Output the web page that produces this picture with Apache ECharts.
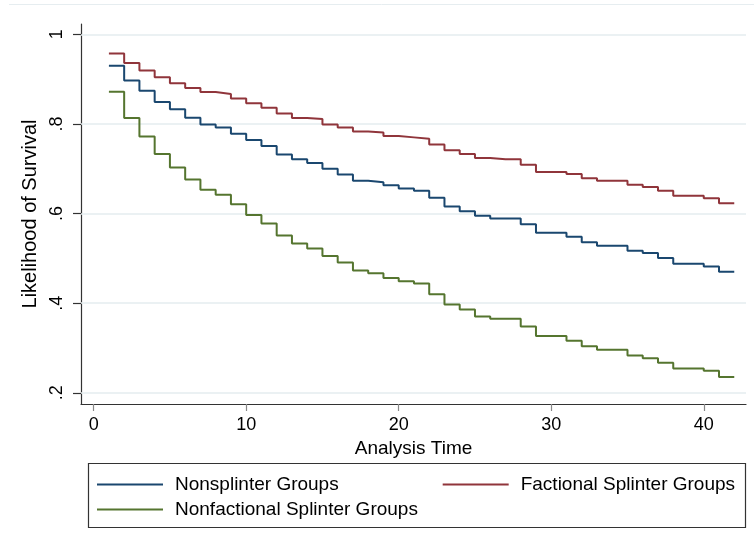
<!DOCTYPE html>
<html>
<head>
<meta charset="utf-8">
<script src="https://cdn.jsdelivr.net/npm/echarts@6/dist/echarts.min.js"></script>
<style>
html,body{margin:0;padding:0;background:#fff;}
#chart{width:754px;height:552px;}
</style>
</head>
<body>
<div id="chart"></div>
<script>
var times = [1,2,3,4,5,6,7,8,9,10,11,12,13,14,15,16,17,18,19,20,21,22,23,24,25,26,27,28,29,30,31,32,33,34,35,36,37,38,39,40,41,42];
var nonsplinter = [0.930,0.897,0.874,0.849,0.833,0.814,0.799,0.792,0.778,0.764,0.751,0.732,0.721,0.713,0.700,0.687,0.673,0.670,0.663,0.656,0.651,0.635,0.616,0.605,0.595,0.589,0.589,0.576,0.557,0.557,0.548,0.536,0.528,0.528,0.517,0.512,0.501,0.488,0.488,0.482,0.470,0.470];
var factional = [0.957,0.936,0.919,0.904,0.891,0.880,0.871,0.867,0.857,0.846,0.836,0.823,0.813,0.811,0.799,0.792,0.783,0.781,0.773,0.770,0.767,0.754,0.741,0.733,0.724,0.721,0.721,0.709,0.693,0.693,0.688,0.679,0.673,0.673,0.664,0.659,0.651,0.640,0.640,0.634,0.623,0.623];
var nonfactional = [0.872,0.813,0.772,0.733,0.703,0.676,0.653,0.642,0.621,0.597,0.578,0.551,0.533,0.522,0.505,0.491,0.473,0.467,0.456,0.449,0.444,0.420,0.397,0.386,0.370,0.365,0.365,0.348,0.327,0.327,0.316,0.304,0.296,0.296,0.283,0.277,0.267,0.254,0.254,0.249,0.235,0.235];
var xTicks = [0,10,20,30,40];
var yTicks = [0.2,0.4,0.6,0.8,1];
var yTickLabels = ['.2','.4','.6','.8','1'];
var seriesNames = ['Nonsplinter Groups','Factional Splinter Groups','Nonfactional Splinter Groups'];
var colors = ['#1a476f','#90353b','#55752f'];

function pairs(vals){ return times.map(function(t,i){ return [t, vals[i]]; }); }

var font = 'Liberation Sans, Arial, sans-serif';
var chart = echarts.init(document.getElementById('chart'), null, {renderer:'canvas'});
var allVals = [nonsplinter, factional, nonfactional];
var series = allVals.map(function(v,i){
  return {
    name: seriesNames[i], type:'line', step:'end', data: pairs(v),
    showSymbol:false, symbol:'none', silent:true,
    lineStyle:{color:colors[i], width:2}, itemStyle:{color:colors[i]},
    z: 3,
    markLine: i===0 ? {
      silent:true, symbol:['none','none'], label:{show:false},
      lineStyle:{color:'#e4ecef', width:1.5, type:'solid'},
      data: yTicks.map(function(y){ return {yAxis:y}; }),
      z: 1
    } : undefined
  };
});

var legendText = {fontFamily:font, fontSize:19, color:'#000', padding:[0,0,0,7]};

chart.setOption({
  animation:false,
  backgroundColor:'#fff',
  grid:{left:81, right:8, top:24, bottom:148, containLabel:false},
  xAxis:{
    type:'value', min:-0.83, max:42.77,
    name:'Analysis Time', nameLocation:'middle', nameGap:31,
    nameTextStyle:{fontFamily:font, fontSize:19, color:'#000'},
    axisLine:{show:true, onZero:false, lineStyle:{color:'#333', width:1.2}},
    axisTick:{show:true, length:7, customValues:xTicks, lineStyle:{color:'#888', width:1.2}},
    axisLabel:{customValues:xTicks, fontFamily:font, fontSize:18, color:'#000', margin:12,
      formatter:function(v){return String(v);}},
    splitLine:{show:false}
  },
  yAxis:{
    type:'value', min:0.175, max:1.023,
    name:'Likelihood of Survival', nameLocation:'middle', nameGap:38, nameRotate:90,
    nameTextStyle:{fontFamily:font, fontSize:20, color:'#000'},
    axisLine:{show:true, onZero:false, lineStyle:{color:'#333', width:1.2}},
    axisTick:{show:true, length:8, customValues:yTicks, lineStyle:{color:'#333', width:1.2}},
    axisLabel:{customValues:yTicks, rotate:90, fontFamily:font, fontSize:18, color:'#000', margin:15,
      formatter:function(v){ var i=yTicks.findIndex(function(t){return Math.abs(t-v)<1e-6;}); return i>=0?yTickLabels[i]:''; }},
    splitLine:{show:false}
  },
  legend:[
    {data:[seriesNames[0], seriesNames[1]], left:97, top:475, itemGap:104, itemWidth:66, itemHeight:2, icon:'rect',
     textStyle:legendText, selectedMode:false, padding:0},
    {data:[seriesNames[2]], left:97, top:500, itemWidth:66, itemHeight:2, icon:'rect',
     textStyle:legendText, selectedMode:false, padding:0}
  ],
  graphic:[
    {type:'rect', shape:{x:88.5, y:463.5, width:657, height:64}, style:{fill:'none', stroke:'#333', lineWidth:1.2}, silent:true},
    {type:'line', shape:{x1:9, y1:4.5, x2:754, y2:4.5}, style:{stroke:'#e6edf0', lineWidth:1}, silent:true}
  ],
  series: series
});
</script>
</body>
</html>
